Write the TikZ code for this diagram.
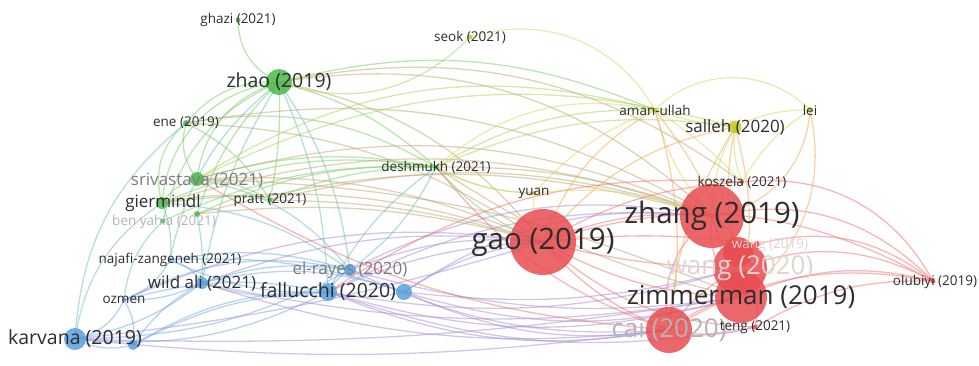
\documentclass[tikz,border=0pt]{standalone}
\usepackage{fontspec}
\setmainfont{Open Sans}
\usetikzlibrary{positioning}

\definecolor{cgreen}{RGB}{76,184,72}
\definecolor{cblue}{RGB}{88,160,220}
\definecolor{cred}{RGB}{232,76,80}
\definecolor{cyell}{RGB}{196,200,40}
\definecolor{labc}{RGB}{45,45,45}
\definecolor{labm}{RGB}{125,125,125}
\definecolor{labl}{RGB}{180,180,180}
\definecolor{labf}{RGB}{222,212,212}
% edge colours
\definecolor{eg}{RGB}{120,205,100}
\definecolor{eb}{RGB}{110,170,230}
\definecolor{er}{RGB}{245,110,110}
\definecolor{ey}{RGB}{215,215,100}
\definecolor{egr}{RGB}{190,165,115}
\definecolor{egb}{RGB}{110,190,190}
\definecolor{ep}{RGB}{165,140,210}
\definecolor{eyo}{RGB}{240,170,80}
\definecolor{egy}{RGB}{170,210,90}

\pgfdeclarelayer{edges}
\pgfsetlayers{edges,main}

\begin{document}
\begin{tikzpicture}[x=1pt, y=-1pt]
        % Styles
        \tikzstyle{bub} = [circle, inner sep=0pt, fill opacity=0.85]
        \tikzstyle{lab} = [inner sep=0pt, text=labc]
        \tikzstyle{labA} = [font=\fontsize{13.5}{14}\selectfont]
        \tikzstyle{labB} = [font=\fontsize{17}{18}\selectfont]
        \tikzstyle{labC} = [font=\fontsize{19.5}{20}\selectfont]
        \tikzstyle{labD} = [font=\fontsize{26}{27}\selectfont]
        \tikzstyle{labE} = [font=\fontsize{29.5}{30}\selectfont]
        \tikzstyle{link} = [line width=1.3pt, draw opacity=0.5]

        \useasboundingbox (0,0) rectangle (979,365);

        % Nodes: green cluster
        \node (ghazi) [bub, fill=cgreen, minimum size=5pt] at (238,20) {};
        \node (zhao) [bub, fill=cgreen, minimum size=26pt] at (279,82) {};
        \node (ene) [bub, fill=cgreen, minimum size=6pt] at (186,123) {};
        \node (sriv) [bub, fill=cgreen, minimum size=14pt] at (197,179) {};
        \node (gier) [bub, fill=cgreen, minimum size=12pt] at (162,203) {};
        \node (benyahia) [bub, fill=cgreen, minimum size=5pt] at (163,221) {};
        \node (gx) [bub, fill=cgreen, minimum size=6pt] at (197,214) {};
        \node (pratt) [bub, fill=cgreen, minimum size=5pt] at (270,200) {};
        \node (desh) [bub, fill=cgreen, minimum size=5pt] at (436,167) {};

        % Nodes: yellow cluster
        \node (seok) [bub, fill=cyell, minimum size=5pt] at (470,37) {};
        \node (yuan) [bub, fill=cyell, minimum size=4pt] at (534,193) {};
        \node (aman) [bub, fill=cyell, minimum size=5pt] at (655,110) {};
        \node (salleh) [bub, fill=cyell, minimum size=13pt] at (735,127) {};
        \node (lei) [bub, fill=cyell, minimum size=5pt] at (810,110) {};

        % Nodes: red cluster
        \node (gao) [bub, fill=cred, minimum size=66pt] at (543,242) {};
        \node (koszela) [bub, fill=cred, minimum size=4pt] at (742,182) {};
        \node (zhang) [bub, fill=cred, minimum size=64pt] at (712,216) {};
        \node (wang20) [bub, fill=cred, minimum size=54pt] at (740,268) {};
        \node (wangx) [bub, fill=cred, minimum size=30pt] at (738,252) {};
        \node (wang19) [bub, fill=cred, minimum size=6pt] at (757,244) {};
        \node (zimm) [bub, fill=cred, minimum size=52pt] at (741,297) {};
        \node (cai) [bub, fill=cred, minimum size=46pt] at (669,330) {};
        \node (teng) [bub, fill=cred, minimum size=5pt] at (755,327) {};
        \node (olubiyi) [bub, fill=cred, minimum size=5pt] at (933,281) {};

        % Nodes: blue cluster
        \node (elrayes) [bub, fill=cblue, minimum size=12pt] at (350,270) {};
        \node (fall) [bub, fill=cblue, minimum size=18pt] at (328,292) {};
        \node (bx) [bub, fill=cblue, minimum size=16pt] at (404,292) {};
        \node (najafi) [bub, fill=cblue, minimum size=4pt] at (170,260) {};
        \node (wild) [bub, fill=cblue, minimum size=12pt] at (202,283) {};
        \node (ozmen) [bub, fill=cblue, minimum size=4pt] at (124,300) {};
        \node (karv) [bub, fill=cblue, minimum size=22pt] at (75,339) {};
        \node (kx) [bub, fill=cblue, minimum size=10pt] at (133,345) {};

        % Edges
        \begin{pgfonlayer}{edges}
        \foreach \a/\b/\c/\k in {
            zhao/ghazi/eg/25, zhao/ene/eg/-20, zhao/sriv/eg/-25, zhao/gier/eg/-30,
            zhao/benyahia/eg/-20, zhao/pratt/eg/5, zhao/gx/eg/-10, zhao/desh/eg/10,
            zhao/gao/egr/15, zhao/zhang/egr/20, zhao/koszela/egr/18, seok/zhao/egy/25,
            zhao/wild/egb/-8, zhao/fall/egb/8, zhao/najafi/egb/-15, zhao/aman/eg/14,
            ene/sriv/eg/-20, ene/gier/eg/-25, ene/karv/egb/-18, ene/desh/eg/15,
            ene/zhang/egr/15, ene/gao/egr/12, ene/pratt/eg/12,
            sriv/gier/eg/-15, sriv/pratt/eg/10, sriv/desh/eg/10, sriv/gao/egr/10,
            sriv/zhang/egr/15, sriv/aman/egy/18, sriv/salleh/egy/16, sriv/zimm/egr/8,
            gier/pratt/eg/8, gier/gao/egr/10, gier/zhang/egr/14, gier/desh/eg/12,
            gier/karv/egb/-18, benyahia/ozmen/egb/-15, benyahia/desh/eg/10,
            gx/desh/eg/10, gx/gao/egr/8, gx/wild/egb/5, gx/zhang/egr/12,
            pratt/desh/eg/8, pratt/gao/egr/6, pratt/zhang/egr/12,
            desh/aman/egy/12, desh/gao/eg/-10, desh/zhang/egr/8, desh/salleh/egy/12,
            desh/zimm/egr/-8, desh/fall/egb/-10, desh/elrayes/egb/10, desh/yuan/egy/-10}
          \draw [link, \c, bend left=1.3*\k] (\a.center) to (\b.center);
        \foreach \a/\b/\c/\k in {
            fall/elrayes/eb/10, fall/bx/eb/-10, fall/wild/eb/10, fall/karv/eb/12,
            fall/ozmen/eb/-10, fall/najafi/eb/10, fall/kx/eb/-10,
            fall/gao/ep/8, fall/zhang/ep/12, fall/zimm/ep/-12, fall/cai/ep/-12,
            fall/wang20/ep/-10, fall/teng/ep/-11,
            elrayes/gao/ep/10, elrayes/zhang/ep/14, elrayes/cai/ep/-11, elrayes/zimm/ep/-9,
            elrayes/karv/eb/10, elrayes/wild/eb/-10, elrayes/sriv/egb/-15,
            elrayes/gier/egb/-12, elrayes/zhao/egb/-10,
            bx/gao/ep/10, bx/zimm/ep/-12, bx/cai/ep/-12, bx/zhang/ep/15,
            bx/wild/eb/-12, bx/wang20/ep/-8,
            wild/karv/eb/10, wild/ozmen/eb/10, wild/najafi/eb/-15,
            wild/gao/ep/10, wild/zimm/ep/-8, wild/cai/ep/-9,
            ozmen/karv/eb/20, ozmen/najafi/eb/-15, ozmen/kx/eb/15,
            ozmen/gao/ep/12, ozmen/elrayes/eb/15,
            karv/kx/eb/-15, karv/cai/ep/-5, karv/zimm/ep/-4, karv/gao/ep/-4,
            kx/fall/eb/12, kx/wild/eb/10,
            najafi/gier/egb/-10, najafi/elrayes/eb/10, najafi/bx/eb/8}
          \draw [link, \c, bend left=1.3*\k] (\a.center) to (\b.center);
        \foreach \a/\b/\c/\k in {
            gao/zhang/er/10, gao/zimm/er/-10, gao/cai/er/-10, gao/wang20/er/-5,
            gao/wang19/er/5, gao/teng/er/-15, gao/koszela/er/10, gao/olubiyi/er/18,
            zhang/olubiyi/er/22, zhang/zimm/er/-20, zhang/wang20/er/-10, zhang/cai/er/-25,
            wang20/olubiyi/er/18, zimm/olubiyi/er/14, cai/olubiyi/er/16, cai/zimm/er/10,
            wang19/olubiyi/er/20, teng/olubiyi/er/12, koszela/olubiyi/er/26,
            teng/zhang/er/-25, cai/wang20/er/10, cai/teng/er/-10,
            desh/cai/er/-12, sriv/cai/er/-10, fall/koszela/er/14,
            aman/salleh/ey/-5, aman/zhang/ey/-10, aman/gao/eyo/-15, aman/desh/ey/-20,
            aman/yuan/ey/-10, aman/zimm/eyo/10, aman/cai/eyo/10, seok/aman/ey/30,
            aman/lei/ey/35, salleh/lei/ey/10, salleh/zhang/ey/-10, salleh/koszela/ey/-10,
            salleh/zimm/eyo/10, salleh/wang20/eyo/-10, salleh/cai/eyo/-10,
            lei/zhang/eyo/30, lei/zimm/eyo/25, lei/koszela/ey/-10,
            yuan/gao/ey/-10, yuan/desh/ey/10, yuan/zhang/ey/10,
            aman/koszela/ey/5, salleh/gao/eyo/-15}
          \draw [link, \c, bend left=1.3*\k] (\a.center) to (\b.center);
        \end{pgfonlayer}

        % Labels
        \node (ghazi-l) [lab, labA] at (ghazi) {ghazi (2021)};
        \node (zhao-l) [lab, labC] at (zhao) {zhao (2019)};
        \node (seok-l) [lab, labA] at (seok) {seok (2021)};
        \node (ene-l) [lab, labA] at (ene) {ene (2019)};
        \node (sriv-l) [lab, labB, text=labm] at (197,181) {srivastava (2021)};
        \node (gier-l) [lab, labB] at (163,203) {giermindl};
        \node (benyahia-l) [lab, labA, text=labl] at (164,222) {ben yahia (2021)};
        \node (pratt-l) [lab, labA] at (pratt) {pratt (2021)};
        \node (desh-l) [lab, labA] at (desh) {deshmukh (2021)};
        \node (yuan-l) [lab, labA] at (yuan) {yuan};
        \node (aman-l) [lab, labA] at (aman) {aman-ullah};
        \node (salleh-l) [lab, labB] at (salleh) {salleh (2020)};
        \node (lei-l) [lab, labA] at (lei) {lei};
        \node (gao-l) [lab, labE] at (gao) {gao (2019)};
        \node (koszela-l) [lab, labA] at (koszela) {koszela (2021)};
        \node (zhang-l) [lab, labE] at (zhang) {zhang (2019)};
        \node (wang19-l) [lab, labA, text=labf] at (770,245) {wang (2019)};
        \node (wang20-l) [lab, labD, text=labf] at (wang20) {wang (2020)};
        \node (zimm-l) [lab, labD] at (741,297) {zimmerman (2019)};
        \node (cai-l) [lab, labD, text=labl] at (cai) {cai (2020)};
        \node (teng-l) [lab, labA] at (teng) {teng (2021)};
        \node (olubiyi-l) [lab, labA] at (935,282) {olubiyi (2019)};
        \node (elrayes-l) [lab, labB, text=labm] at (elrayes) {el-rayes (2020)};
        \node (fall-l) [lab, labC] at (fall) {fallucchi (2020)};
        \node (najafi-l) [lab, labA] at (najafi) {najafi-zangeneh (2021)};
        \node (wild-l) [lab, labB] at (wild) {wild ali (2021)};
        \node (ozmen-l) [lab, labA] at (ozmen) {ozmen};
        \node (karv-l) [lab, labC] at (karv) {karvana (2019)};

    \end{tikzpicture}
\end{document}
